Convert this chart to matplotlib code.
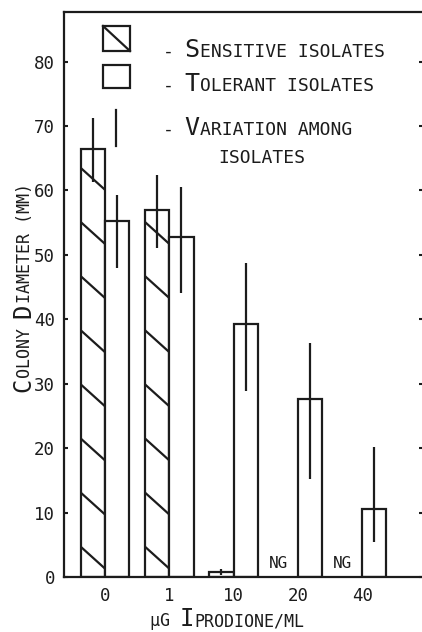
import matplotlib
matplotlib.use('Agg')
import matplotlib.pyplot as plt
import numpy as np
from matplotlib.patches import Rectangle
from matplotlib.lines import Line2D

# colony diameter (mm)
doses = ['0', '1', '10', '20', '40']
sensitive = [66.5, 57.0, 0.8, np.nan, np.nan]   # nan = no growth (NG)
sens_lo = [61.3, 51.1, 0.3, np.nan, np.nan]
sens_hi = [71.3, 62.4, 1.3, np.nan, np.nan]
tolerant = [55.3, 52.7, 39.3, 27.6, 10.6]
tol_lo = [48.0, 44.1, 28.8, 15.2, 5.4]
tol_hi = [59.3, 60.6, 48.8, 36.3, 20.2]

MONO = 'DejaVu Sans Mono'
INK = '#1c1c1c'
ADV = 0.602  # advance width of DejaVu Sans Mono, in em
W, H = 422, 632

fig = plt.figure(figsize=(W / 100, H / 100), dpi=100)
ax = fig.add_axes([64 / W, 55 / H, (423 - 64) / W, (577 - 12) / H])


def fxy(px, py):
    # pixel position -> figure fraction
    return px / W, 1 - py / H


def caps(xy, parts, rotation=0):
    # fake small caps: pieces of text at two sizes, laid end to end
    off = 0.0
    for s, size in parts:
        d = (off, 0) if rotation == 0 else (0, off)
        ax.annotate(s, xy=fxy(*xy), xycoords='figure fraction', xytext=d,
                    textcoords='offset points', fontsize=size, family=MONO,
                    color=INK, ha='left', va='baseline', rotation=rotation,
                    rotation_mode='anchor', annotation_clip=False)
        off += ADV * size * len(s)


x = np.arange(len(doses))
w = 0.378
sens = np.array(sensitive)
grew = ~np.isnan(sens)

sbars = ax.bar(x[grew] - w / 2, sens[grew], w, color='white', edgecolor=INK,
               linewidth=1.6, zorder=2)
ax.bar(x + w / 2, tolerant, w, color='white', edgecolor=INK, linewidth=1.6,
       zorder=2)

# wide hand-drawn style diagonal hatch on the sensitive bars
for bar in sbars:
    x0 = bar.get_x()
    x1 = x0 + bar.get_width()
    v = 4.7
    while v - 3.4 < bar.get_height():
        ln = Line2D([x0, x1], [v, v - 3.4], color=INK, lw=1.6, zorder=3)
        ax.add_line(ln)
        ln.set_clip_path(bar)
        v += 8.4

# variation among isolates
ax.vlines(x[grew] - w / 2, np.array(sens_lo)[grew], np.array(sens_hi)[grew],
          color=INK, lw=1.6, zorder=4)
ax.vlines(x + w / 2, tol_lo, tol_hi, color=INK, lw=1.6, zorder=4)

for xi in x[~grew]:
    ax.text(xi - 0.3, 1.4, 'NG', ha='center', va='baseline', fontsize=11.5,
            family=MONO, color=INK)

ax.set_xlim(-0.638, 4.946)
ax.set_ylim(0, 87.7)
ax.set_yticks(np.arange(0, 81, 10))
ax.set_xticks(x)
ax.set_xticklabels(doses)
ax.tick_params(axis='y', direction='in', length=3, width=1.5, pad=6.5,
               labelsize=12.5, colors=INK, right=True)
ax.tick_params(axis='x', length=0, pad=7, labelsize=12.5, colors=INK)
for lab in ax.get_xticklabels() + ax.get_yticklabels():
    lab.set_family(MONO)
for side in ['left', 'top', 'bottom']:
    ax.spines[side].set_linewidth(1.6)
    ax.spines[side].set_color(INK)
ax.spines['right'].set_visible(False)

# legend drawn by hand, as in the original
fig.add_artist(Rectangle(fxy(103, 51), 27 / W, 25 / H, fill=False,
                         lw=1.6, ec=INK, transform=fig.transFigure))
fig.add_artist(Line2D(*zip(fxy(103, 26), fxy(130, 51)), lw=1.6, color=INK,
                      transform=fig.transFigure))
fig.add_artist(Rectangle(fxy(103, 88), 27 / W, 23 / H, fill=False,
                         lw=1.6, ec=INK, transform=fig.transFigure))
fig.add_artist(Line2D(*zip(fxy(116, 110), fxy(116, 146)), lw=1.6, color=INK,
                      transform=fig.transFigure))

caps((163, 57), [('- ', 13), ('S', 18), ('ENSITIVE ISOLATES', 13)])
caps((163, 91), [('- ', 13), ('T', 18), ('OLERANT ISOLATES', 13)])
caps((163, 135), [('- ', 13), ('V', 18), ('ARIATION AMONG', 13)])
caps((218, 163), [('ISOLATES', 13)])

# axis titles
caps((30, 392), [('C', 17), ('OLONY ', 12), ('D', 17), ('IAMETER (MM)', 12)],
     rotation=90)
caps((150, 626), [('µG ', 12), ('I', 17), ('PRODIONE/ML', 12)])

fig.savefig('out.png', dpi=100, facecolor='white')
